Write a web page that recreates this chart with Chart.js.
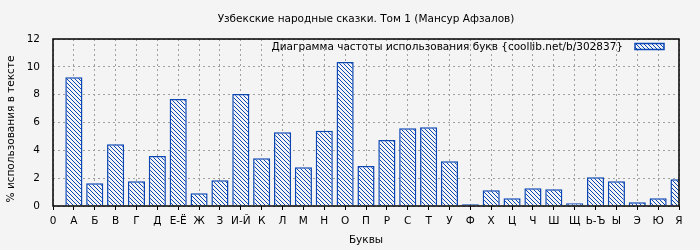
<!DOCTYPE html>
<html>
<head>
<meta charset="utf-8">
<script src="https://cdn.jsdelivr.net/npm/chart.js@4"></script>
<style>
    html, body { margin: 0; padding: 0; background: #f4f4f4; }
    #wrap { width: 700px; height: 250px; }
</style>
</head>
<body>
<div id="wrap"><canvas id="chart" width="700" height="250"></canvas></div>
<script>
// letters on the x axis (first slot is the "0" origin label)
const letters = ['0', 'А', 'Б', 'В', 'Г', 'Д', 'Е-Ё', 'Ж', 'З', 'И-Й', 'К', 'Л', 'М', 'Н', 'О', 'П',
    'Р', 'С', 'Т', 'У', 'Ф', 'Х', 'Ц', 'Ч', 'Ш', 'Щ', 'Ь-Ъ', 'Ы', 'Э', 'Ю', 'Я'];
// % of use in text
const percents = [null, 9.26, 1.63, 4.44, 1.78, 3.6, 7.68, 0.91, 1.85, 8.04, 3.43, 5.3, 2.78, 5.4, 10.34, 2.88,
    4.75, 5.59, 5.66, 3.21, 0.12, 1.13, 0.55, 1.27, 1.2, 0.19, 2.06, 1.78, 0.27, 0.55, 1.92];
const yTicks = [0, 2, 4, 6, 8, 10, 12];

const titleText = 'Узбекские народные сказки. Том 1 (Мансур Афзалов)';
const legendText = 'Диаграмма частоты использования букв {coollib.net/b/302837}';
const yTitle = '% использования в тексте';
const xTitle = 'Буквы';

const blue = '#0a46b4';
const bg = '#f4f4f4';
const fontStr = '10.5px "DejaVu Sans"';
const font = { family: 'DejaVu Sans', size: 10.5 };

// hatch pattern "\\\\"
const makeHatch = () => {
    const c = document.createElement('canvas');
    c.width = 4;
    c.height = 4;
    const g = c.getContext('2d');
    g.fillStyle = bg;
    g.fillRect(0, 0, 4, 4);
    g.strokeStyle = blue;
    g.lineWidth = 1;
    g.beginPath();
    g.moveTo(-1, -1);
    g.lineTo(5, 5);
    g.stroke();
    return g.createPattern(c, 'repeat');
};

const ctx = document.getElementById('chart').getContext('2d');
const hatch = makeHatch();

// background, frame, titles and the in-plot legend
const frame = {
    id: 'frame',
    beforeDraw(chart) {
        const g = chart.ctx;
        g.save();
        g.fillStyle = bg;
        g.fillRect(0, 0, chart.width, chart.height);
        g.restore();
    },
    afterDatasetsDraw(chart) {
        const a = chart.chartArea;
        const g = chart.ctx;
        const mid = (a.left + a.right) / 2;
        g.save();
        g.strokeStyle = '#000';
        g.lineWidth = 1.5;
        g.strokeRect(a.left, a.top, a.right - a.left, a.bottom - a.top);

        g.fillStyle = '#000';
        g.font = fontStr;
        g.textBaseline = 'middle';
        g.textAlign = 'center';
        g.fillText(titleText, mid, 19);
        g.fillText(xTitle, mid, 240);

        g.save();
        g.translate(11, 129);
        g.rotate(-Math.PI / 2);
        g.fillText(yTitle, 0, 0);
        g.restore();

        // legend: text then sample box
        g.textAlign = 'right';
        g.fillText(legendText, a.right - 56, 47);
        const bx = a.right - 44;
        const by = 43.5;
        g.fillStyle = hatch;
        g.fillRect(bx, by, 29, 6);
        g.strokeStyle = blue;
        g.lineWidth = 1.5;
        g.strokeRect(bx, by, 29, 6);
        g.restore();
    }
};

new Chart(ctx, {
    type: 'bar',
    data: {
        labels: letters,
        datasets: [{
            label: legendText,
            data: percents,
            backgroundColor: hatch,
            borderColor: blue,
            borderWidth: 1.5,
            barPercentage: 0.82,
            categoryPercentage: 1
        }]
    },
    options: {
        responsive: false,
        animation: false,
        layout: { padding: { left: 0, right: 21, top: 39, bottom: 0 } },
        plugins: {
            legend: { display: false },
            tooltip: { enabled: false }
        },
        scales: {
            x: {
                offset: false,
                grid: {
                    offset: false,
                    color: '#a0a0a0',
                    drawTicks: true,
                    tickLength: 4,
                    tickColor: '#000'
                },
                border: { display: false, dash: [2, 3] },
                ticks: {
                    autoSkip: false,
                    maxRotation: 0,
                    color: '#000',
                    padding: 5,
                    font: font
                },
                afterFit(scale) { scale.height = 44; }
            },
            y: {
                min: 0,
                max: 12,
                afterBuildTicks(scale) { scale.ticks = yTicks.map(v => ({ value: v })); },
                grid: {
                    color: '#a0a0a0',
                    drawTicks: false
                },
                border: { display: false, dash: [2, 3] },
                ticks: {
                    color: '#000',
                    padding: 13,
                    font: font
                },
                afterFit(scale) { scale.width = 53; }
            }
        }
    },
    plugins: [frame]
});
</script>
</body>
</html>
